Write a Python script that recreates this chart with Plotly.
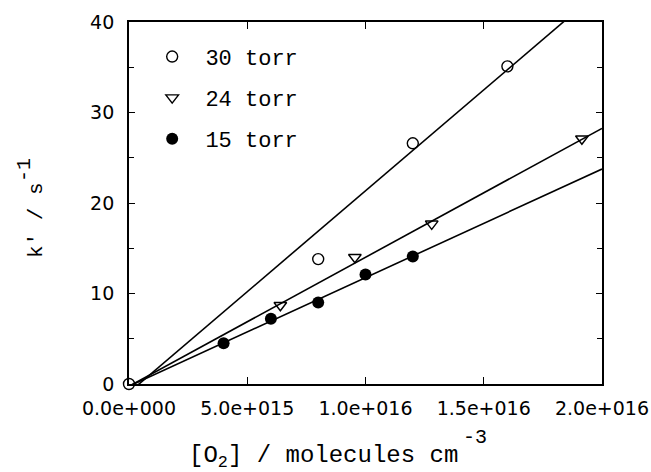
import plotly.graph_objects as go

# Measured pseudo-first-order rate constants k' (s^-1) vs [O2] (molecules cm^-3)
o2_30 = [0.0, 8.0e15, 1.2e16, 1.6e16]
k_30 = [0.0, 13.8, 26.6, 35.1]

o2_24 = [6.4e15, 9.55e15, 1.28e16, 1.915e16]
k_24 = [8.7, 14.0, 17.7, 27.1]

o2_15 = [4.0e15, 6.0e15, 8.0e15, 1.0e16, 1.2e16]
k_15 = [4.5, 7.2, 9.0, 12.1, 14.1]

# Linear fits k' = intercept + slope * [O2]
fit_30 = {"slope": 2.23e-15, "intercept": -0.95}
fit_24 = {"slope": 1.425e-15, "intercept": -0.25}
fit_15 = {"slope": 1.2e-15, "intercept": -0.25}
fit_x = [0.0, 2.0e16]

x_tickvals = [0.0, 5.0e15, 1.0e16, 1.5e16, 2.0e16]
x_ticktext = ["0.0e+000", "5.0e+015", "1.0e+016", "1.5e+016", "2.0e+016"]
y_tickvals = [0, 10, 20, 30, 40]

LABEL_FONT = "Liberation Mono"
TICK_FONT = "DejaVu Sans"

fig = go.Figure()

for fit in (fit_30, fit_24, fit_15):
    fig.add_trace(go.Scatter(
        x=fit_x,
        y=[fit["intercept"] + fit["slope"] * v for v in fit_x],
        mode="lines",
        line=dict(color="black", width=1.6),
        showlegend=False,
        hoverinfo="skip",
    ))

fig.add_trace(go.Scatter(
    x=o2_30, y=k_30, mode="markers", name="\u00a030 torr",
    marker=dict(symbol="circle-open", size=11, color="black", line=dict(width=1.4)),
    cliponaxis=False, legendgroup="a",
))
fig.add_trace(go.Scatter(
    x=o2_24, y=k_24, mode="markers", name="\u00a024 torr",
    marker=dict(symbol="triangle-down-open", size=11, color="black", line=dict(width=1.4)),
    cliponaxis=False, legendgroup="b",
))
fig.add_trace(go.Scatter(
    x=o2_15, y=k_15, mode="markers", name="\u00a015 torr",
    marker=dict(symbol="circle", size=12, color="black"),
    cliponaxis=False, legendgroup="c",
))

axis_common = dict(
    showline=True, linecolor="black", linewidth=1.8, mirror="allticks",
    ticks="inside", tickcolor="black", tickwidth=1.3,
    showgrid=False, zeroline=False, automargin=False,
    ticklabeloverflow="allow",
    tickfont=dict(family=TICK_FONT, size=19, color="black"),
)

fig.update_xaxes(
    range=[0, 2.0e16], tickvals=x_tickvals, ticktext=x_ticktext,
    ticklen=7, ticklabelstandoff=6, **axis_common,
)
fig.update_yaxes(
    range=[0, 40], tickvals=y_tickvals, ticklen=6, ticklabelstandoff=9,
    minor=dict(ticks="inside", dtick=5, ticklen=5, tickcolor="black", tickwidth=1.2),
    **axis_common,
)

title_font = dict(family=LABEL_FONT, size=24, color="black")
exp_font = dict(family=LABEL_FONT, size=20, color="black")

# x-axis title with its exponent
fig.add_annotation(
    text="[O<sub>2</sub>] / molecules cm",
    xref="paper", yref="paper", x=0.412, y=-0.2017, xanchor="center", yanchor="middle",
    showarrow=False, font=title_font,
)
fig.add_annotation(
    text="-3",
    xref="paper", yref="paper", x=0.731, y=-0.147, xanchor="center", yanchor="middle",
    showarrow=False, font=exp_font,
)
# y-axis title with its exponent
fig.add_annotation(
    text="k' / s",
    xref="paper", yref="paper", x=-0.1966, y=0.453, xanchor="center", yanchor="middle",
    textangle=-90, showarrow=False,
    font=dict(family=LABEL_FONT, size=21, color="black"),
)
fig.add_annotation(
    text="-1",
    xref="paper", yref="paper", x=-0.222, y=0.591, xanchor="center", yanchor="middle",
    textangle=-90, showarrow=False, font=exp_font,
)

fig.update_layout(
    width=651, height=472,
    margin=dict(l=129, r=49, t=22, b=88),
    paper_bgcolor="white", plot_bgcolor="white",
    legend=dict(
        x=0.049, y=0.962, xanchor="left", yanchor="top",
        bgcolor="rgba(0,0,0,0)", borderwidth=0,
        font=dict(family=LABEL_FONT, size=22, color="black"),
        tracegroupgap=9.5, itemwidth=30,
    ),
    showlegend=True,
)

fig.write_html("out.html")
